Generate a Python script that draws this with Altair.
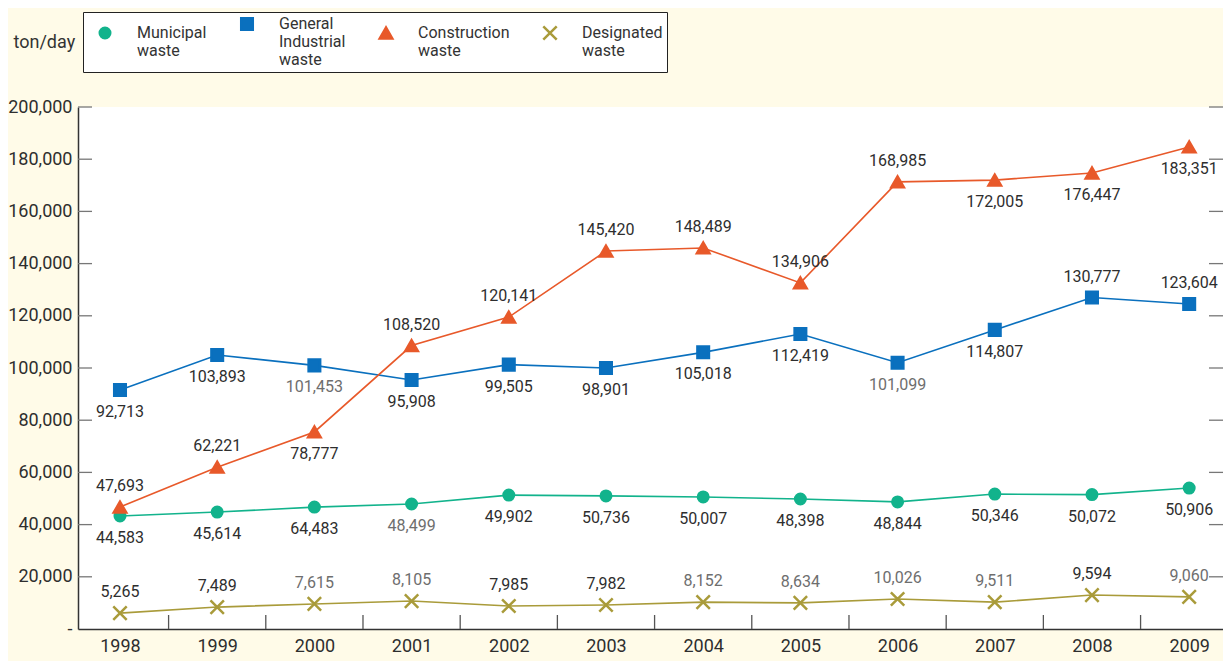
import altair as alt
import pandas as pd

years = list(range(1998, 2010))
series_names = ["Municipal waste", "General Industrial waste", "Construction waste", "Designated waste"]
series_colors = ["#12B38C", "#0A70BE", "#E8592A", "#A99B3A"]
series_shapes = ["circle", "square", "triangle-up", "M-1,-1L1,1M-1,1L1,-1"]
series_sizes = [110, 180, 230, 230]

# plotted positions (as drawn)
municipal = [43300, 44800, 46700, 47900, 51300, 51000, 50600, 49800, 48700, 51700, 51500, 54000]
general = [91600, 105000, 101000, 95400, 101300, 100000, 106000, 113000, 102000, 114600, 127000, 124500]
construction = [46700, 62000, 75500, 108600, 119500, 144800, 146000, 132600, 171300, 172000, 174700, 184700]
designated = [6100, 8400, 9600, 10700, 8800, 9200, 10300, 10000, 11500, 10300, 13000, 12300]

# printed data labels
municipal_lbl = ["44,583", "45,614", "64,483", "48,499", "49,902", "50,736", "50,007", "48,398", "48,844", "50,346", "50,072", "50,906"]
general_lbl = ["92,713", "103,893", "101,453", "95,908", "99,505", "98,901", "105,018", "112,419", "101,099", "114,807", "130,777", "123,604"]
construction_lbl = ["47,693", "62,221", "78,777", "108,520", "120,141", "145,420", "148,489", "134,906", "168,985", "172,005", "176,447", "183,351"]
designated_lbl = ["5,265", "7,489", "7,615", "8,105", "7,985", "7,982", "8,152", "8,634", "10,026", "9,511", "9,594", "9,060"]

# label placement: a = above, b = below
municipal_pos = ["b"] * 12
general_pos = ["b"] * 10 + ["a", "a"]
construction_pos = ["a", "a", "b", "a", "a", "a", "a", "a", "a", "b", "b", "b"]
designated_pos = ["a"] * 12

# label tone: d = dark, g = grey
municipal_tone = ["d", "d", "d", "g", "d", "d", "d", "d", "d", "d", "d", "d"]
general_tone = ["d", "d", "g", "d", "d", "d", "d", "d", "g", "d", "d", "d"]
construction_tone = ["d"] * 12
designated_tone = ["d", "d", "g", "g", "d", "d", "g", "g", "g", "g", "d", "g"]

y_ticks = [20000, 40000, 60000, 80000, 100000, 120000, 140000, 160000, 180000, 200000]
x_sep_ticks = [y - 0.5 for y in years[1:]]

rows = []
for name, vals, lbls, poss, tones in [
    (series_names[0], municipal, municipal_lbl, municipal_pos, municipal_tone),
    (series_names[1], general, general_lbl, general_pos, general_tone),
    (series_names[2], construction, construction_lbl, construction_pos, construction_tone),
    (series_names[3], designated, designated_lbl, designated_pos, designated_tone),
]:
    for yr, v, l, p, t in zip(years, vals, lbls, poss, tones):
        rows.append({"year": yr, "value": v, "series": name, "label": l, "pos": p, "tone": t})
df = pd.DataFrame(rows)

W, H = 1145, 522
FONT = "Roboto, Liberation Sans, sans-serif"

x_scale = alt.Scale(domain=[1997.568, 2009.348], nice=False, zero=False)
y_scale = alt.Scale(domain=[0, 200000], nice=False)

color_scale = alt.Scale(domain=series_names, range=series_colors)
shape_scale = alt.Scale(domain=series_names, range=series_shapes)
size_scale = alt.Scale(domain=series_names, range=series_sizes)

legend = alt.Legend(
    title=None,
    orient="none",
    legendX=5,
    legendY=-95,
    direction="horizontal",
    columns=4,
    columnPadding=22,
    padding=4,
    symbolOffset=10,
    strokeColor="#222222",
    fillColor="#FFFFFF",
    labelFont=FONT,
    labelFontSize=16,
    labelColor="#333333",
    labelOffset=24,
    labelLimit=200,
    symbolStrokeWidth=2.5,
    labelExpr="split(datum.label, ' ')",
)

x_enc = alt.X(
    "year:Q",
    scale=x_scale,
    axis=alt.Axis(
        values=years, format="d", ticks=False, grid=False, title=None,
        domainColor="#333333", domainWidth=1.5,
        labelFont=FONT, labelFontSize=18, labelColor="#2E2E2E", labelPadding=8,
    ),
)
y_enc = alt.Y(
    "value:Q",
    scale=y_scale,
    axis=alt.Axis(
        values=[0] + y_ticks, ticks=False, grid=False,
        title="ton/day", titleAngle=0, titleX=-65, titleY=-65, titleAlign="left",
        titleBaseline="middle", titleFont=FONT, titleFontSize=18, titleFontWeight="normal",
        titleColor="#333333",
        labelExpr="datum.value == 0 ? '-' : format(datum.value, ',')",
        domainColor="#333333", domainWidth=1.5,
        labelFont=FONT, labelFontSize=18, labelColor="#2E2E2E", labelPadding=6,
    ),
)

base = alt.Chart(df)

lines = base.mark_line(strokeWidth=1.6).encode(
    x=x_enc, y=y_enc,
    color=alt.Color("series:N", scale=color_scale, legend=legend),
    detail="series:N",
)

points = base.mark_point(filled=True, opacity=1, strokeWidth=2.5).encode(
    x="year:Q", y="value:Q",
    color=alt.Color("series:N", scale=color_scale, legend=legend),
    stroke=alt.Stroke("series:N", scale=color_scale, legend=legend),
    shape=alt.Shape("series:N", scale=shape_scale, legend=legend),
    size=alt.Size("series:N", scale=size_scale, legend=legend),
)

text_layers = []
for pos, dy in [("a", -21), ("b", 22)]:
    for tone, col in [("d", "#2E2E2E"), ("g", "#6E6E6E")]:
        text_layers.append(
            base.transform_filter(
                (alt.datum.pos == pos) & (alt.datum.tone == tone)
            ).mark_text(
                font=FONT, fontSize=16, color=col, dy=dy, baseline="middle", align="center"
            ).encode(x="year:Q", y="value:Q", text="label:N")
        )

ytick_df = pd.DataFrame({"v": y_ticks})
left_ticks = alt.Chart(ytick_df).mark_rule(color="#777777", strokeWidth=1.3).encode(
    y="v:Q", x=alt.value(0), x2=alt.value(14)
)
right_ticks = alt.Chart(ytick_df).mark_rule(color="#777777", strokeWidth=1.3).encode(
    y="v:Q", x=alt.value(W - 14), x2=alt.value(W)
)
xtick_df = pd.DataFrame({"t": x_sep_ticks})
bottom_ticks = alt.Chart(xtick_df).mark_rule(color="#555555", strokeWidth=1.3).encode(
    x="t:Q", y=alt.value(H), y2=alt.value(H - 14)
)

chart = alt.layer(
    left_ticks, right_ticks, bottom_ticks, lines, points, *text_layers
).properties(
    width=W, height=H,
    background="#FFFBE8",
    padding={"left": 70, "top": 99, "right": 0, "bottom": 32},
    autosize=alt.AutoSizeParams(type="none"),
).configure_view(
    fill="#FFFFFF", stroke=None
)

chart.save("out.html", embed_options={"renderer": "svg", "actions": False})
